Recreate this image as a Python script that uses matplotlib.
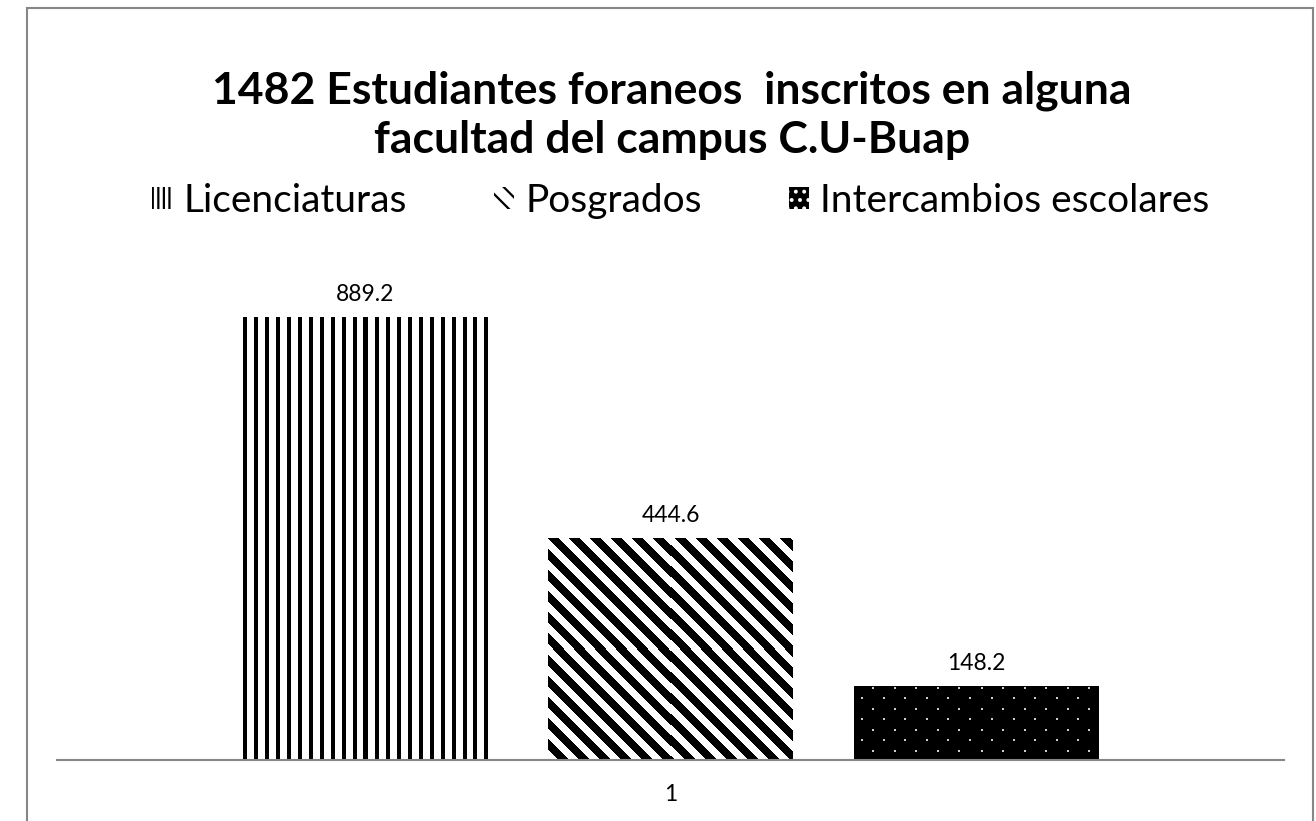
import numpy as np
import matplotlib
matplotlib.use('Agg')
import matplotlib.pyplot as plt
from matplotlib.patches import Patch, Rectangle

plt.rcParams['font.family'] = ['Lato', 'DejaVu Sans']
plt.rcParams['hatch.linewidth'] = 1.6

# data
series = ['Licenciaturas', 'Posgrados', 'Intercambios escolares']
values = [889.2, 444.6, 148.2]
category = '1'
title = '1482 Estudiantes foraneos  inscritos en alguna\nfacultad del campus C.U-Buap'

W, H = 1316, 821
fig = plt.figure(figsize=(W / 100, H / 100), dpi=100)
gray = '#868686'

# outer chart border (bottom edge falls outside the picture)
fig.patches.append(Rectangle((27 / W, -0.05), (1313 - 27) / W, 1.05 - 8 / H,
                             transform=fig.transFigure, fill=False,
                             edgecolor=gray, linewidth=1.5))

ax = fig.add_axes([57 / W, 1 - 760 / H, (1284 - 57) / W, 500 / H])
pos = np.arange(len(values)) - 1
bars = ax.bar(pos, values, width=0.8, facecolor='none', edgecolor='none', zorder=1)
ax.set_xlim(-2.008, 2.008)
ax.set_ylim(0, 1005.8)
for s in ['left', 'right', 'top']:
    ax.spines[s].set_visible(False)
ax.spines['bottom'].set_color(gray)
ax.spines['bottom'].set_linewidth(1.5)
ax.set_yticks([])
ax.set_xticks([0])
ax.set_xticklabels([category], fontsize=16.5)
ax.tick_params(axis='x', length=0, pad=17)
ax.bar_label(bars, fmt='%.1f', padding=9, fontsize=16.5)

fig.text(672 / W, 1 - 115 / H, title, ha='center', va='center',
         fontsize=32, fontweight='bold', linespacing=1.26)

# fill patterns
fig.canvas.draw()
def texture(kind, w, h):
    yy, xx = np.mgrid[0:h, 0:w]
    if kind == 0:
        return np.where(xx % 10.9 < 4, 0.0, 1.0)
    if kind == 1:
        return np.where((xx - yy) % 21 < 10.5, 0.0, 1.0)
    img = np.zeros((h, w))
    row = (yy - 1) % 21
    dots = ((row < 2) & ((xx - 18) % 21.5 < 2)) | \
           ((np.abs(row - 10.5) < 1) & ((xx - 7) % 21.5 < 2))
    img[dots] = 0.8
    return img

for k, b in enumerate(bars):
    bb = b.get_window_extent()
    w, h = int(round(bb.width)), int(round(bb.height))
    ax.imshow(texture(k, w, h), cmap='gray', vmin=0, vmax=1, aspect='auto',
              interpolation='nearest',
              extent=(b.get_x(), b.get_x() + b.get_width(), 0, b.get_height()),
              zorder=2)
ax.set_xlim(-2.008, 2.008)
ax.set_ylim(0, 1005.8)

handles = [Patch(facecolor='white', edgecolor='black', hatch='|||', linewidth=0),
           Patch(facecolor='white', edgecolor='black', hatch='\\\\', linewidth=0),
           Patch(facecolor='black', edgecolor='white', hatch='..', linewidth=0)]
fig.legend(handles, series, loc='center', bbox_to_anchor=(681 / W, 1 - 201 / H),
           ncol=3, frameon=False, fontsize=28, handlelength=0.5, handleheight=0.5,
           handletextpad=0.3, columnspacing=2.25)

fig.savefig('out.png', dpi=100)
